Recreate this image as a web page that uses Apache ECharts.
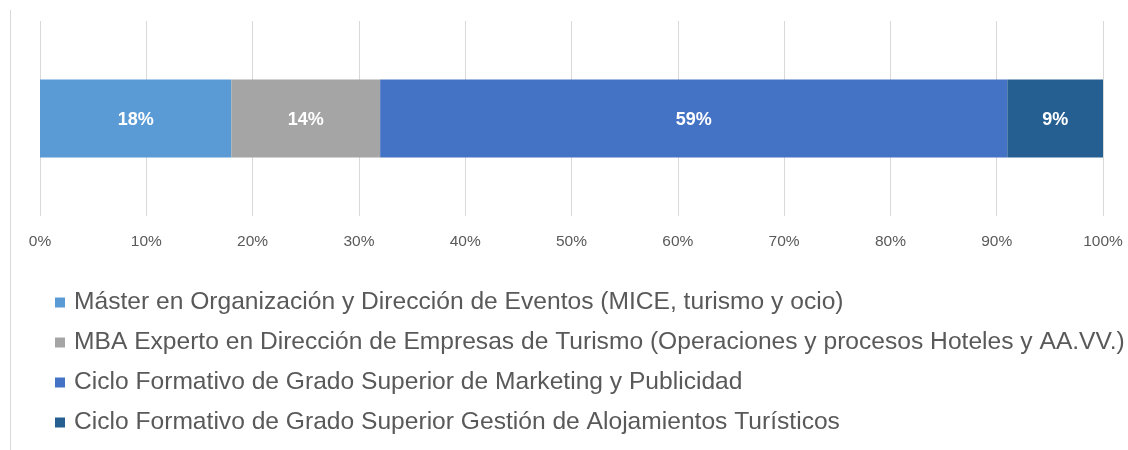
<!DOCTYPE html>
<html>
<head>
<meta charset="utf-8">
<script src="https://cdn.jsdelivr.net/npm/echarts@6/dist/echarts.min.js"></script>
<style>
    html, body { margin: 0; padding: 0; background: #fff; }
    #chart { width: 1128px; height: 450px; }
</style>
</head>
<body>
<div id="chart"></div>
<script>
// datos del gráfico
var categorias = ['Programas'];
var nombres = [
    'Máster en Organización y Dirección de Eventos (MICE, turismo y ocio)',
    'MBA Experto en Dirección de Empresas de Turismo (Operaciones y procesos Hoteles y AA.VV.)',
    'Ciclo Formativo de Grado Superior de Marketing y Publicidad',
    'Ciclo Formativo de Grado Superior Gestión de Alojamientos Turísticos'
];
var valores = [18, 14, 59, 9];
var colores = ['#5B9BD5', '#A5A5A5', '#4472C4', '#255E91'];

var series = [];
for (var i = 0; i < nombres.length; i++) {
    series.push({
        name: nombres[i],
        type: 'bar',
        stack: 'total',
        barWidth: 78,
        data: [valores[i]],
        itemStyle: {color: colores[i]},
        label: {
            show: true,
            position: 'inside',
            formatter: '{c}%',
            color: '#fff',
            fontWeight: 'bold',
            fontSize: 18,
            fontFamily: 'Liberation Sans',
            offset: [0, 2]
        }
    });
}

var myChart = echarts.init(document.getElementById('chart'));
myChart.setOption({
    animation: false,
    grid: {
        left: 40,
        right: 25,
        top: 21,
        height: 195
    },
    legend: {
        orient: 'vertical',
        left: 50,
        top: 285,
        itemWidth: 10,
        itemHeight: 10,
        itemGap: 15,
        icon: 'rect',
        textStyle: {
            fontSize: 24.6,
            lineHeight: 25,
            color: '#595959',
            fontFamily: 'Liberation Sans',
            padding: [0, 0, 0, 4]
        },
        data: nombres
    },
    xAxis: {
        type: 'value',
        min: 0,
        max: 100,
        interval: 10,
        axisLine: {show: false},
        axisTick: {show: false},
        splitLine: {lineStyle: {color: '#d9d9d9'}},
        axisLabel: {
            formatter: '{value}%',
            color: '#595959',
            fontSize: 15.5,
            margin: 18,
            fontFamily: 'Liberation Sans'
        }
    },
    yAxis: {
        type: 'category',
        data: categorias,
        show: false
    },
    graphic: [{
        type: 'line',
        shape: {x1: 10.5, y1: 10, x2: 10.5, y2: 450},
        style: {stroke: '#d9d9d9', lineWidth: 1}
    }],
    series: series
});
</script>
</body>
</html>
